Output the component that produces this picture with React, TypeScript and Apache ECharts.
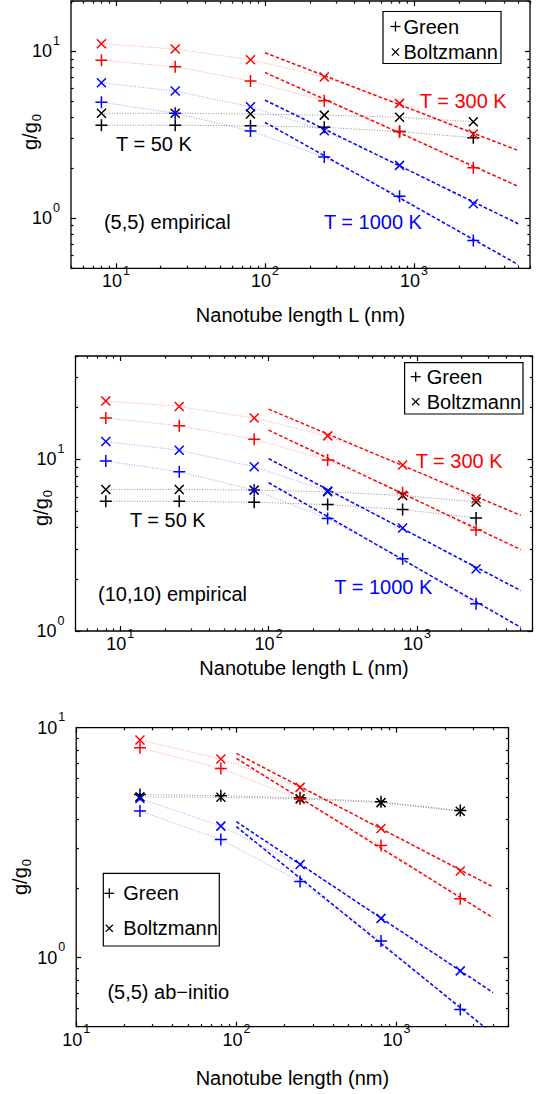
import React, { useEffect, useRef } from "react";
import * as echarts from "echarts";

const FONT = '"Liberation Sans", Arial, Helvetica, sans-serif';
const RED = "#ff0000";
const BLUE = "#0000ff";
const BLACK = "#000000";
const PALE_RED = "rgba(255,40,40,0.45)";
const PALE_BLUE = "rgba(40,40,255,0.45)";
const PALE_BLACK = "rgba(60,60,60,0.55)";

// Nanotube lengths L (nm)
const LENGTHS_EMPIRICAL = [8, 25, 80, 250, 800, 2500];
const LENGTHS_ABINITIO = [25, 80, 250, 800, 2500];
// Span of the power-law fits (nm)
const FIT_RANGE_EMPIRICAL = [100, 5000];
const FIT_RANGE_ABINITIO = [100, 4000];

// (5,5) empirical, g/g0
const p1Green50 = [3.6, 3.6, 3.57, 3.5, 3.3, 3.03];
const p1Boltz50 = [4.25, 4.25, 4.2, 4.14, 4.02, 3.78];
const p1Green300 = [8.83, 8.06, 6.64, 5.05, 3.3, 2.0];
const p1Boltz300 = [11.1, 10.3, 8.9, 7.0, 4.87, 3.19];
const p1Green1000 = [4.95, 4.25, 3.33, 2.32, 1.35, 0.735];
const p1Boltz1000 = [6.47, 5.77, 4.65, 3.34, 2.07, 1.22];
const p1FitGreen300 = [7.46, 1.55];
const p1FitBoltz300 = [9.8, 2.54];
const p1FitGreen1000 = [3.75, 0.526];
const p1FitBoltz1000 = [5.09, 0.925];

// (10,10) empirical, g/g0
const p2Green50 = [5.7, 5.7, 5.62, 5.45, 5.1, 4.56];
const p2Boltz50 = [6.68, 6.68, 6.62, 6.47, 6.16, 5.65];
const p2Green300 = [17.4, 15.7, 13.1, 9.9, 6.38, 3.87];
const p2Boltz300 = [21.9, 20.3, 17.4, 13.7, 9.26, 5.89];
const p2Green1000 = [9.78, 8.47, 6.62, 4.52, 2.64, 1.44];
const p2Boltz1000 = [12.7, 11.3, 9.06, 6.53, 3.98, 2.3];
const p2FitGreen300 = [14.8, 2.98];
const p2FitBoltz300 = [19.6, 4.72];
const p2FitGreen1000 = [7.31, 1.05];
const p2FitBoltz1000 = [10.1, 1.72];

// (5,5) ab-initio, g/g0
const p3Green50 = [5.12, 5.06, 4.96, 4.76, 4.36];
const p3Boltz50 = [5.0, 4.98, 4.9, 4.72, 4.33];
const p3Green300 = [8.18, 6.65, 4.89, 3.07, 1.8];
const p3Boltz300 = [8.84, 7.31, 5.5, 3.64, 2.38];
const p3Green1000 = [4.34, 3.26, 2.14, 1.18, 0.594];
const p3Boltz1000 = [4.92, 3.73, 2.54, 1.48, 0.875];
const p3FitGreen300 = [7.35, 1.49];
const p3FitBoltz300 = [7.73, 2.03];
const p3FitGreen1000 = [3.71, 0.465];
const p3FitBoltz1000 = [3.9, 0.704];

// Axis limits and decade ticks
const X_DECADES = [10, 100, 1000];
const Y_DECADES = [1, 10];
const MINOR_STEPS = [2, 3, 4, 5, 6, 7, 8, 9];
const P1_X = [5, 6000];
const P1_Y = [0.5, 20];
const P2_X = [5, 6000];
const P2_Y = [1, 40];
const P3_X = [10, 5000];
const P3_Y = [0.5, 10];

const PLUS = "path://M5,0L5,10M0,5L10,5";
const CROSS = "path://M0,0L10,10M10,0L0,10";

const GRIDS = [
  { left: 71, top: 1, width: 459, height: 267.3 },
  { left: 75.5, top: 356, width: 457, height: 275 },
  { left: 76.2, top: 727.7, width: 432.3, height: 299 },
];

const tickRich = {
  b: { fontSize: 18, lineHeight: 18, fontFamily: FONT, color: "#000", verticalAlign: "bottom" },
  e: { fontSize: 12.5, lineHeight: 12.5, fontFamily: FONT, color: "#000", padding: [0, 0, 13, 1], verticalAlign: "bottom" },
};

function decadeLabel(v: number) {
  return `{b|10}{e|${Math.round(Math.log10(v))}}`;
}

function minorTicks(decades: number[], range: number[]) {
  const bases = [decades[0] / 10, ...decades];
  const out: number[] = [];
  bases.forEach((d) =>
    MINOR_STEPS.forEach((k) => {
      const v = +(k * d).toPrecision(8);
      if (v >= range[0] - 1e-9 && v <= range[1] + 1e-9) out.push(v);
    })
  );
  return out;
}

function majorTicks(decades: number[], range: number[]) {
  return decades.filter((v) => v >= range[0] - 1e-9 && v <= range[1] + 1e-9);
}

const tickLine = { color: "#000", width: 1.2 };

// Four axes per side of a box: labelled major, minor, mirrored major, mirrored minor
function axesFor(
  dim: "x" | "y",
  gridIndex: number,
  range: number[],
  decades: number[],
  name?: string,
  nameGap?: number
) {
  const major = majorTicks(decades, range);
  const minor = minorTicks(decades, range);
  const sides = dim === "x" ? ["bottom", "top"] : ["left", "right"];
  const base = {
    type: "log",
    logBase: 10,
    gridIndex,
    min: range[0],
    max: range[1],
    axisLine: { show: false },
    splitLine: { show: false },
    minorTick: { show: false },
  };
  const list: any[] = [];
  sides.forEach((pos, si) => {
    list.push({
      ...base,
      position: pos,
      axisTick: { show: true, inside: true, length: 5, customValues: major, lineStyle: tickLine },
      axisLabel:
        si === 0
          ? {
              show: true,
              customValues: major,
              formatter: decadeLabel,
              margin: dim === "x" ? 4 : 11,
              fontSize: 18,
              fontFamily: FONT,
              color: "#000",
              rich: tickRich,
            }
          : { show: false },
      name: si === 0 && name ? name : "",
      nameLocation: "middle",
      nameGap: nameGap ?? 30,
      nameTextStyle: { fontSize: 20, fontFamily: FONT, color: "#000" },
    });
    list.push({
      ...base,
      position: pos,
      axisTick: { show: true, inside: true, length: 2.6, customValues: minor, lineStyle: tickLine },
      axisLabel: { show: false },
    });
  });
  return list;
}

function pointSeries(grid: number, xs: number[], ys: number[], color: string, pale: string, symbol: string) {
  return {
    type: "line",
    xAxisIndex: grid * 4,
    yAxisIndex: grid * 4,
    data: xs.map((x, i) => [x, ys[i]]),
    symbol,
    symbolSize: symbol === PLUS ? 12 : 9,
    showSymbol: true,
    silent: true,
    lineStyle: { color: pale, width: 1, type: [1, 1.6] },
    itemStyle: { color: "rgba(0,0,0,0)", borderColor: color, borderWidth: 1.5 },
    z: 4,
  };
}

function fitSeries(grid: number, xs: number[], ys: number[], color: string) {
  return {
    type: "line",
    xAxisIndex: grid * 4,
    yAxisIndex: grid * 4,
    data: xs.map((x, i) => [x, ys[i]]),
    symbol: "none",
    showSymbol: false,
    silent: true,
    clip: true,
    lineStyle: { color, width: 1.5, type: [3.6, 2.2] },
    z: 3,
  };
}

function panelSeries(
  grid: number,
  xs: number[],
  fitXs: number[],
  d: {
    g50: number[]; b50: number[]; g300: number[]; b300: number[]; g1000: number[]; b1000: number[];
    f300g: number[]; f300b: number[]; f1000g: number[]; f1000b: number[];
  }
) {
  return [
    fitSeries(grid, fitXs, d.f300b, RED),
    fitSeries(grid, fitXs, d.f300g, RED),
    fitSeries(grid, fitXs, d.f1000b, BLUE),
    fitSeries(grid, fitXs, d.f1000g, BLUE),
    pointSeries(grid, xs, d.g50, BLACK, PALE_BLACK, PLUS),
    pointSeries(grid, xs, d.b50, BLACK, PALE_BLACK, CROSS),
    pointSeries(grid, xs, d.g300, RED, PALE_RED, PLUS),
    pointSeries(grid, xs, d.b300, RED, PALE_RED, CROSS),
    pointSeries(grid, xs, d.g1000, BLUE, PALE_BLUE, PLUS),
    pointSeries(grid, xs, d.b1000, BLUE, PALE_BLUE, CROSS),
  ];
}

function label(text: string, x: number, y: number, fill = BLACK) {
  return {
    type: "text",
    x,
    y,
    z: 20,
    silent: true,
    style: { text, fill, fontSize: 20, fontFamily: FONT, align: "left", verticalAlign: "middle" },
  };
}

function yTitle(x: number, y: number) {
  return {
    type: "text",
    x,
    y,
    rotation: Math.PI / 2,
    z: 20,
    silent: true,
    style: {
      text: "{a|g/g}{s|0}",
      align: "center",
      verticalAlign: "middle",
      fontSize: 20,
      fontFamily: FONT,
      fill: BLACK,
      rich: {
        a: { fontSize: 20, lineHeight: 22, fontFamily: FONT, fill: BLACK, verticalAlign: "top" },
        s: { fontSize: 13, lineHeight: 13, fontFamily: FONT, fill: BLACK, padding: [10, 0, 0, 1], verticalAlign: "top" },
      },
    },
  };
}

function plusMark(cx: number, cy: number, r: number) {
  return [
    { type: "line", z: 21, shape: { x1: cx - r, y1: cy, x2: cx + r, y2: cy }, style: { stroke: BLACK, lineWidth: 1.3 } },
    { type: "line", z: 21, shape: { x1: cx, y1: cy - r, x2: cx, y2: cy + r }, style: { stroke: BLACK, lineWidth: 1.3 } },
  ];
}

function crossMark(cx: number, cy: number, r: number) {
  return [
    { type: "line", z: 21, shape: { x1: cx - r, y1: cy - r, x2: cx + r, y2: cy + r }, style: { stroke: BLACK, lineWidth: 1.3 } },
    { type: "line", z: 21, shape: { x1: cx + r, y1: cy - r, x2: cx - r, y2: cy + r }, style: { stroke: BLACK, lineWidth: 1.3 } },
  ];
}

function legendBox(x: number, y: number, w: number, h: number, mx: number, tx: number, y1: number, y2: number) {
  return [
    { type: "rect", z: 19, shape: { x, y, width: w, height: h }, style: { fill: "#fff", stroke: BLACK, lineWidth: 1.2 } },
    ...plusMark(mx, y1, 5),
    ...crossMark(mx, y2, 3.6),
    label("Green", tx, y1),
    label("Boltzmann", tx, y2),
  ];
}

export default function App() {
  const ref = useRef<HTMLDivElement>(null);

  useEffect(() => {
    document.body.style.margin = "0";
    if (!ref.current) return;
    const chart = echarts.init(ref.current, null, { renderer: "svg" });

    const xAxis = [
      ...axesFor("x", 0, P1_X, X_DECADES, "Nanotube length L (nm)", 37),
      ...axesFor("x", 1, P2_X, X_DECADES, "Nanotube length L (nm)", 27),
      ...axesFor("x", 2, P3_X, X_DECADES, "Nanotube length (nm)", 41),
    ];
    const yAxis = [
      ...axesFor("y", 0, P1_Y, Y_DECADES),
      ...axesFor("y", 1, P2_Y, Y_DECADES),
      ...axesFor("y", 2, P3_Y, Y_DECADES),
    ];

    const series = [
      ...panelSeries(0, LENGTHS_EMPIRICAL, FIT_RANGE_EMPIRICAL, {
        g50: p1Green50, b50: p1Boltz50, g300: p1Green300, b300: p1Boltz300, g1000: p1Green1000, b1000: p1Boltz1000,
        f300g: p1FitGreen300, f300b: p1FitBoltz300, f1000g: p1FitGreen1000, f1000b: p1FitBoltz1000,
      }),
      ...panelSeries(1, LENGTHS_EMPIRICAL, FIT_RANGE_EMPIRICAL, {
        g50: p2Green50, b50: p2Boltz50, g300: p2Green300, b300: p2Boltz300, g1000: p2Green1000, b1000: p2Boltz1000,
        f300g: p2FitGreen300, f300b: p2FitBoltz300, f1000g: p2FitGreen1000, f1000b: p2FitBoltz1000,
      }),
      ...panelSeries(2, LENGTHS_ABINITIO, FIT_RANGE_ABINITIO, {
        g50: p3Green50, b50: p3Boltz50, g300: p3Green300, b300: p3Boltz300, g1000: p3Green1000, b1000: p3Boltz1000,
        f300g: p3FitGreen300, f300b: p3FitBoltz300, f1000g: p3FitGreen1000, f1000b: p3FitBoltz1000,
      }),
    ];

    const graphic = [
      // (5,5) empirical
      label("T = 300 K", 419.8, 101, RED),
      label("T = 50 K", 116, 144.3),
      label("T = 1000 K", 323.9, 221.7, BLUE),
      label("(5,5) empirical", 103.9, 222.3),
      ...legendBox(383, 11.5, 118, 52, 395.5, 403.5, 26.5, 52),
      yTitle(31, 132),
      // (10,10) empirical
      label("T = 300 K", 415.7, 460.7, RED),
      label("T = 50 K", 129.9, 520),
      label("T = 1000 K", 334.3, 586.7, BLUE),
      label("(10,10) empirical", 98, 594),
      ...legendBox(404.6, 362.7, 118.4, 51.3, 415.7, 426.7, 376.7, 401.7),
      yTitle(41.6, 508),
      // (5,5) ab-initio
      label("(5,5) ab\u2212initio", 107.4, 991.7),
      ...legendBox(103.3, 873.3, 116, 72.7, 109.3, 123.3, 893.3, 928.3),
      yTitle(21, 877),
    ];

    chart.setOption({
      animation: false,
      backgroundColor: "#ffffff",
      textStyle: { fontFamily: FONT },
      grid: GRIDS.map((g) => ({
        ...g,
        show: true,
        borderColor: "#000",
        borderWidth: 1.3,
        backgroundColor: "transparent",
        containLabel: false,
      })),
      xAxis,
      yAxis,
      series,
      graphic,
    });

    return () => chart.dispose();
  }, []);

  return <div ref={ref} style={{ width: 539, height: 1094 }} />;
}
